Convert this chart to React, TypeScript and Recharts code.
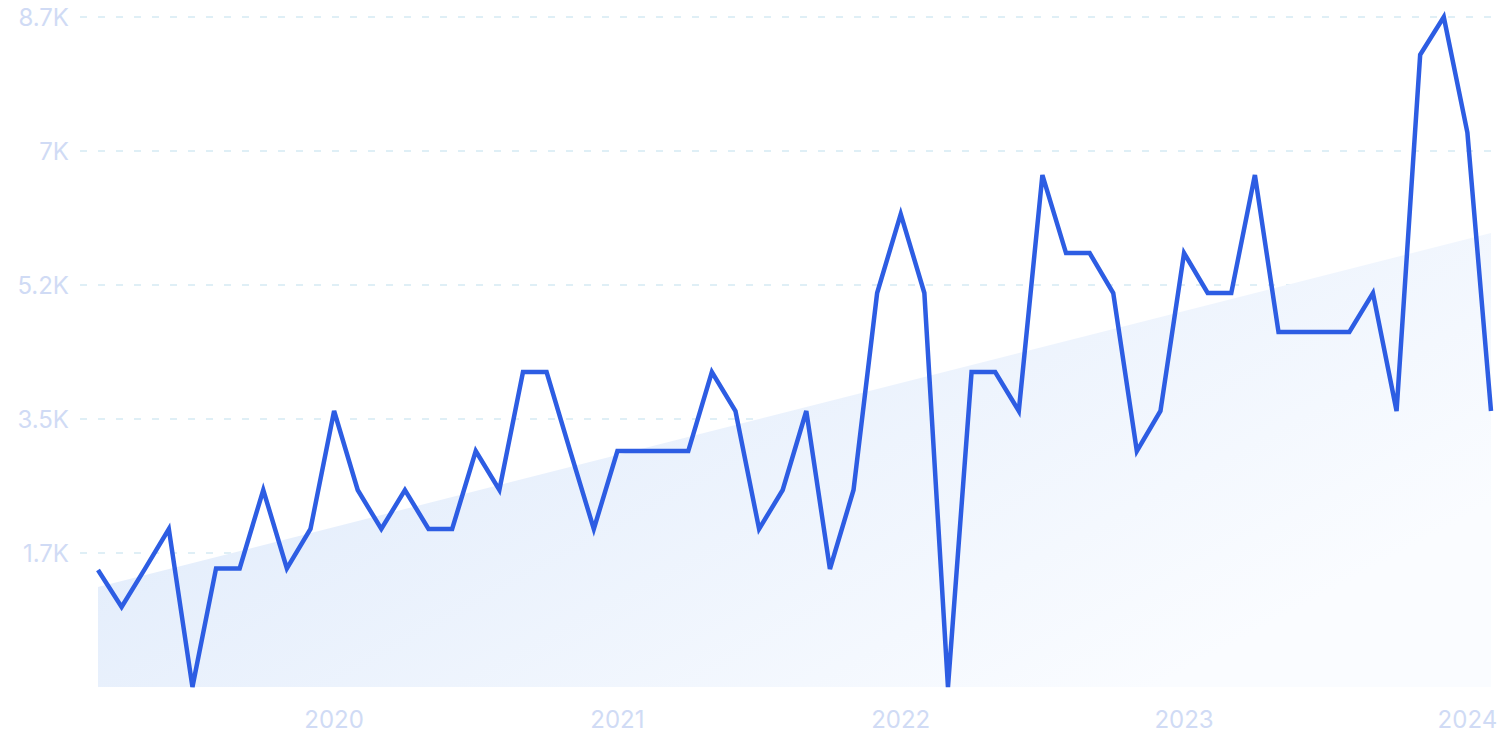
import { Area, CartesianGrid, ComposedChart, Line, XAxis, YAxis } from "recharts";

// monthly search volume, Mar 2019 .. Feb 2024
const volume = [
  1519, 1039, 1540, 2052, 0, 1540, 1540, 2558, 1540, 2052,
  3584, 2558, 2052, 2558, 2052, 2052, 3064, 2558, 4090, 4090,
  3064, 2052, 3064, 3064, 3064, 3064, 4090, 3584, 2052, 2558,
  3584, 1532, 2558, 5116, 6142, 5116, 0, 4090, 4090, 3584,
  6648, 5635, 5635, 5116, 3064, 3584, 5635, 5116, 5116, 6648,
  4610, 4610, 4610, 4610, 5116, 3584, 8210, 8700, 7200, 3584,
];

// trend line end values (first / last month)
const trendEnds = [1298, 5895];

const yTicks = [1740, 3480, 5220, 6960, 8700];
const yLabels = ["1.7K", "3.5K", "5.2K", "7K", "8.7K"];
const yearTicks = ["2020-01", "2021-01", "2022-01", "2023-01", "2024-01"];

const months: string[] = [];
for (let i = 0; i < volume.length; i++) {
  const m = 2 + i; // March 2019 is month index 2
  const year = 2019 + Math.floor(m / 12);
  const mon = (m % 12) + 1;
  months.push(`${year}-${String(mon).padStart(2, "0")}`);
}

const data = months.map((month, i) => ({
  month,
  volume: volume[i],
  trend: i === 0 ? trendEnds[0] : i === volume.length - 1 ? trendEnds[1] : null,
}));

const labelColor = "#d0dbf5";

export default function App() {
  return (
    <div style={{ position: "absolute", left: 0, top: 0, fontFamily: "Inter, sans-serif" }}>
      <ComposedChart width={1505} height={752} data={data} margin={{ top: 17, right: 14, bottom: 0, left: 0 }}>
        <defs>
          <linearGradient id="trendFill" x1="0" y1="0" x2="1" y2="0.6">
            <stop offset="0%" stopColor="#dae7fa" />
            <stop offset="100%" stopColor="#fafcff" />
          </linearGradient>
        </defs>
        <CartesianGrid
          vertical={false}
          horizontalValues={yTicks}
          stroke="#d5eaf3"
          strokeDasharray="7 11"
          strokeWidth={1.5}
        />
        <XAxis
          dataKey="month"
          ticks={yearTicks}
          tickFormatter={(v: string) => v.slice(0, 4)}
          axisLine={false}
          tickLine={false}
          tickSize={0}
          tickMargin={24}
          height={65}
          padding={{ left: 18, right: 0 }}
          interval={0}
          tick={{ fill: labelColor, fontSize: 24 }}
        />
        <YAxis
          domain={[0, 8700]}
          ticks={yTicks}
          tickFormatter={(v: number) => yLabels[yTicks.indexOf(v)] ?? ""}
          axisLine={false}
          tickLine={false}
          tickSize={0}
          tickMargin={11}
          width={80}
          tick={{ fill: labelColor, fontSize: 24 }}
        />
        <Area
          type="linear"
          dataKey="trend"
          connectNulls
          stroke="none"
          fill="url(#trendFill)"
          fillOpacity={1}
          isAnimationActive={false}
          dot={false}
          activeDot={false}
        />
        <Line
          type="linear"
          dataKey="volume"
          stroke="#2d5de3"
          strokeWidth={4.5}
          dot={false}
          activeDot={false}
          isAnimationActive={false}
        />
      </ComposedChart>
    </div>
  );
}
